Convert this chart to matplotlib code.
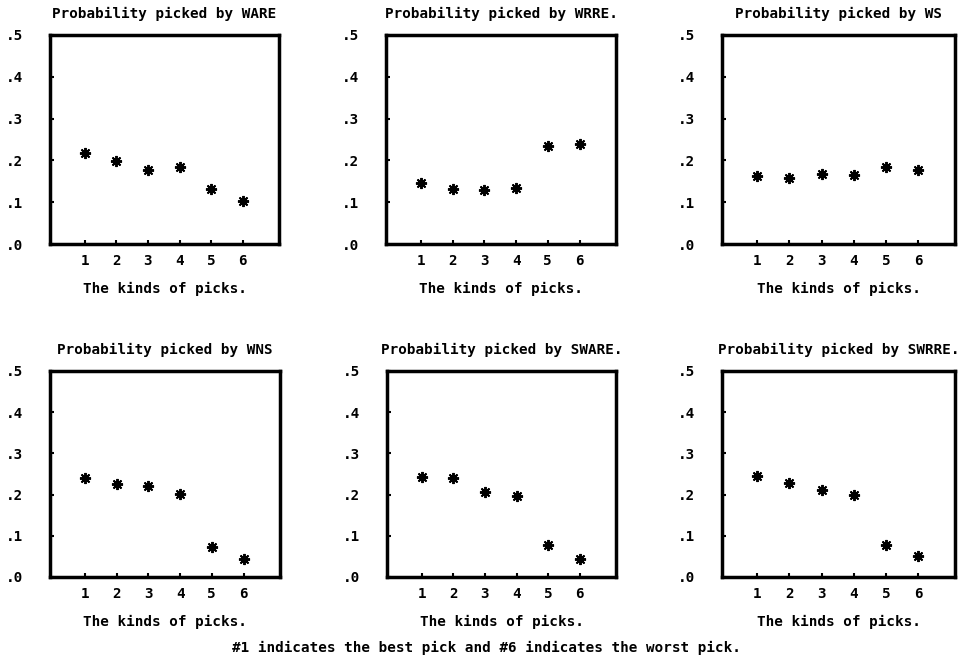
import matplotlib
matplotlib.use("Agg")
import matplotlib.pyplot as plt

picks = [1, 2, 3, 4, 5, 6]
titles = ["Probability picked by WARE", "Probability picked by WRRE.",
          "Probability picked by WS", "Probability picked by WNS",
          "Probability picked by SWARE.", "Probability picked by SWRRE."]
ware = [0.218, 0.198, 0.178, 0.185, 0.131, 0.102]
wrre = [0.145, 0.131, 0.128, 0.133, 0.235, 0.239]
ws = [0.162, 0.157, 0.167, 0.165, 0.185, 0.177]
wns = [0.240, 0.226, 0.222, 0.201, 0.073, 0.044]
sware = [0.242, 0.241, 0.207, 0.197, 0.078, 0.044]
swrre = [0.245, 0.228, 0.211, 0.200, 0.078, 0.050]
series = [ware, wrre, ws, wns, sware, swrre]
yticks = [0.0, 0.1, 0.2, 0.3, 0.4, 0.5]
yticklabels = [".0", ".1", ".2", ".3", ".4", ".5"]
xlabel = "The kinds of picks."
footer = "#1 indicates the best pick and #6 indicates the worst pick."

W, H = 967, 662
fig = plt.figure(figsize=(W / 100, H / 100), dpi=100)
font = dict(family="DejaVu Sans Mono", weight="bold", size=10.3)

# pixel boxes: (left, top, right, bottom)
boxes = [(50, 35, 279, 244), (386, 35, 616, 244), (722, 35, 955, 244),
         (50, 371, 280, 577), (387, 371, 616, 577), (722, 371, 955, 577)]

for box, title, vals in zip(boxes, titles, series):
    l, t, r, b = box
    ax = fig.add_axes([l / W, 1 - b / H, (r - l) / W, (b - t) / H])
    ax.plot(picks, vals, linestyle="none", marker=(8, 2, 0), markersize=8,
            markeredgewidth=1.4, color="black")
    ax.set_xlim(-0.1, 7.15)
    ax.set_ylim(0, 0.5)
    ax.set_xticks(picks)
    ax.set_xticklabels([str(p) for p in picks], fontdict=font)
    ax.set_yticks(yticks)
    ax.set_yticklabels(yticklabels, fontdict=font)
    ax.tick_params(axis="both", direction="in", length=3, width=1.5, color="black")
    ax.tick_params(axis="y", pad=19)
    ax.tick_params(axis="x", pad=7)
    for s in ax.spines.values():
        s.set_linewidth(2.5)
        s.set_color("black")
    ax.set_title(title, fontdict=font, pad=12)
    ax.set_xlabel(xlabel, fontdict=font, labelpad=10)

fig.text(486 / W, 1 - 648 / H, footer, ha="center", va="center", **font)
fig.savefig("out.png", dpi=100, facecolor="white")
